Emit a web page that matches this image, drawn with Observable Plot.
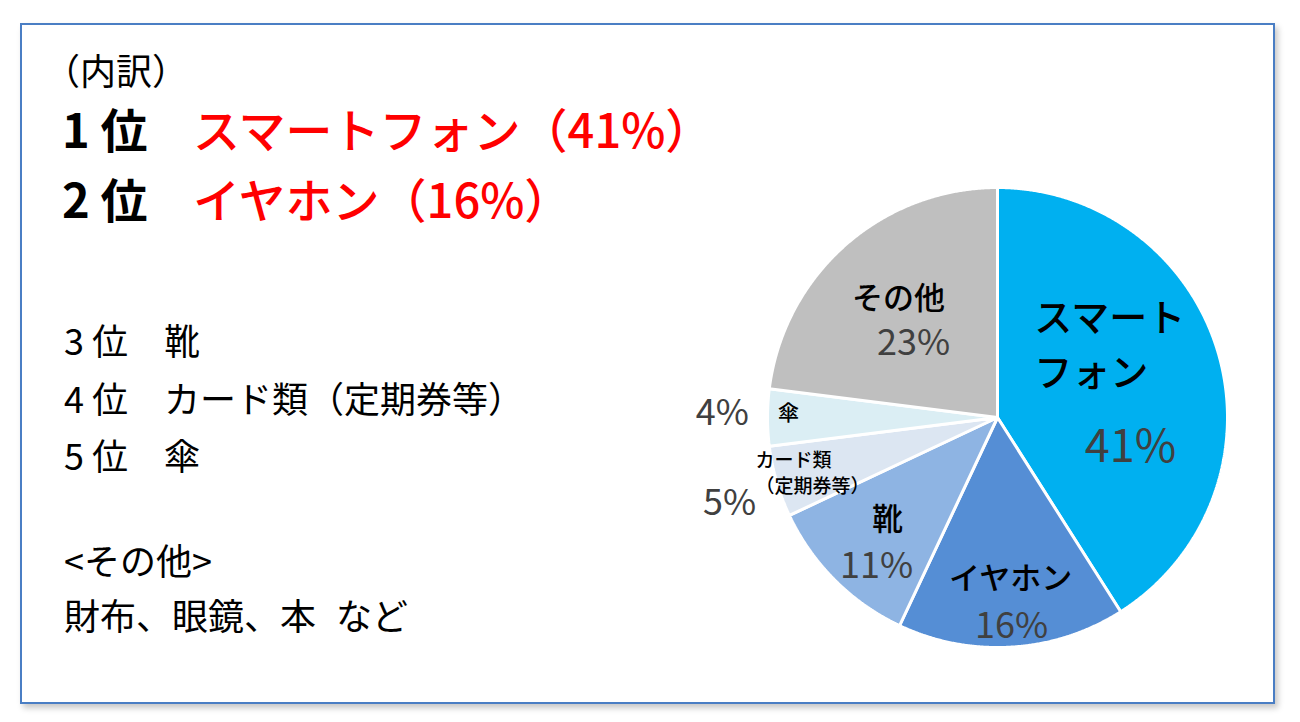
<!DOCTYPE html>
<html lang="ja">
<head>
<meta charset="utf-8">
<script src="https://cdn.jsdelivr.net/npm/d3@7"></script>
<script src="https://cdn.jsdelivr.net/npm/@observablehq/plot@0.6"></script>
<style>
  html, body { margin: 0; padding: 0; background: #ffffff; }
  #page { position: relative; width: 1300px; height: 722px; overflow: hidden; font-family: "Noto Sans CJK JP", "Noto Sans", sans-serif; }
  #frame { position: absolute; left: 20px; top: 23px; width: 1251px; height: 677px; border: 2px solid #4A7EC4; box-shadow: 3px 4px 6px rgba(0,0,0,0.22); background: #fff; }
  #chart { position: absolute; left: 0; top: 0; }
  .t { position: absolute; white-space: pre; line-height: 1; color: #000; }
  .big { font-size: 47px; font-weight: 500; }
  .num { font-weight: 700; }
  .red { color: #FF0000; }
  .mid { font-size: 36px; }
</style>
</head>
<body>
<div id="page">
  <div id="frame"></div>
  <div id="chart"></div>
  <div class="t mid" style="left:44px; top:51px;">（内訳）</div>
  <div class="t big num" style="left:62px; top:104px;">1 位</div>
  <div class="t big red" style="left:193px; top:104px;">スマートフォン（41%）</div>
  <div class="t big num" style="left:62px; top:174px;">2 位</div>
  <div class="t big red" style="left:193px; top:174px;">イヤホン（16%）</div>
  <div class="t mid" style="left:64px; top:321px;">3 位　靴</div>
  <div class="t mid" style="left:64px; top:379px;">4 位　カード類（定期券等）</div>
  <div class="t mid" style="left:64px; top:436px;">5 位　傘</div>
  <div class="t mid" style="left:64px; top:541px;">&lt;その他&gt;</div>
  <div class="t mid" style="left:64px; top:596px; word-spacing:12px;">財布、眼鏡、本 など</div>
</div>
<script>
// ---- data ----
const categories = ["スマートフォン", "イヤホン", "靴", "カード類（定期券等）", "傘", "その他"];
const shares = [41, 16, 11, 5, 4, 23];
const sliceColors = ["#00B0F0", "#558ED5", "#8EB4E3", "#DCE6F2", "#DBEEF4", "#BFBFBF"];
const nameLabels = ["スマート\nフォン", "イヤホン", "靴", "カード類\n（定期券等）", "傘", "その他"];
const pctLabels = shares.map(v => v + "%");

// ---- label layout (data units of the unit-circle scales) ----
const nameAt = [[0.160, 0.335], [0.057, -0.704], [-0.478, -0.448], [-1.052, -0.235], [-0.909, 0.017], [-0.430, 0.517]];
const pctAt  = [[0.578, -0.13], [0.061, -0.909], [-0.526, -0.648], [-1.165, -0.374], [-1.196, 0.017], [-0.365, 0.322]];
const nameSize = [38, 31, 31, 19, 21, 31];
const pctSize = [45, 36, 36, 36, 36, 36];
const nameStart = [true, false, false, true, false, false];

// ---- slice outlines from the pie layout ----
const arcs = d3.pie().sort(null).value(d => d)(shares);
const slicePts = [];
arcs.forEach((a, i) => {
  const cat = categories[i];
  slicePts.push({cat, x: 0, y: 0});
  const n = Math.max(2, Math.ceil((a.endAngle - a.startAngle) / 0.005));
  for (let k = 0; k <= n; k++) {
    const t = a.startAngle + (a.endAngle - a.startAngle) * k / n;
    slicePts.push({cat, x: Math.sin(t), y: Math.cos(t)});
  }
  slicePts.push({cat, x: 0, y: 0});
});

const labels = categories.map((c, i) => ({
  cat: c, name: nameLabels[i], pct: pctLabels[i],
  nx: nameAt[i][0], ny: nameAt[i][1], px: pctAt[i][0], py: pctAt[i][1],
  ns: nameSize[i], ps: pctSize[i], start: nameStart[i]
}));

const chart = Plot.plot({
  width: 1300,
  height: 722,
  marginLeft: 767, marginRight: 73, marginTop: 187, marginBottom: 75,
  x: {domain: [-1, 1], axis: null},
  y: {domain: [-1, 1], axis: null},
  color: {domain: categories, range: sliceColors},
  style: {background: "transparent", fontFamily: "'Noto Sans CJK JP', sans-serif"},
  marks: [
    Plot.line(slicePts, {x: "x", y: "y", z: "cat", fill: "cat", stroke: "#ffffff", strokeWidth: 3, strokeLinejoin: "miter", curve: "linear"}),
    Plot.text(labels.filter(d => d.start && d.cat === "スマートフォン"), {x: "nx", y: "ny", text: "name", fontSize: 38, fontWeight: 500, textAnchor: "start", lineHeight: 1.45, fill: "#000"}),
    Plot.text(labels.filter(d => d.start && d.cat !== "スマートフォン"), {x: "nx", y: "ny", text: "name", fontSize: 19, fontWeight: 500, textAnchor: "start", lineHeight: 1.4, fill: "#000"}),
    Plot.text(labels.filter(d => !d.start), {x: "nx", y: "ny", text: "name", fontSize: "ns", fontWeight: 500, textAnchor: "middle", fill: "#000"}),
    Plot.text(labels, {x: "px", y: "py", text: "pct", fontSize: "ps", textAnchor: "middle", fill: "#404040"})
  ]
});
document.getElementById("chart").appendChild(chart);
</script>
</body>
</html>
